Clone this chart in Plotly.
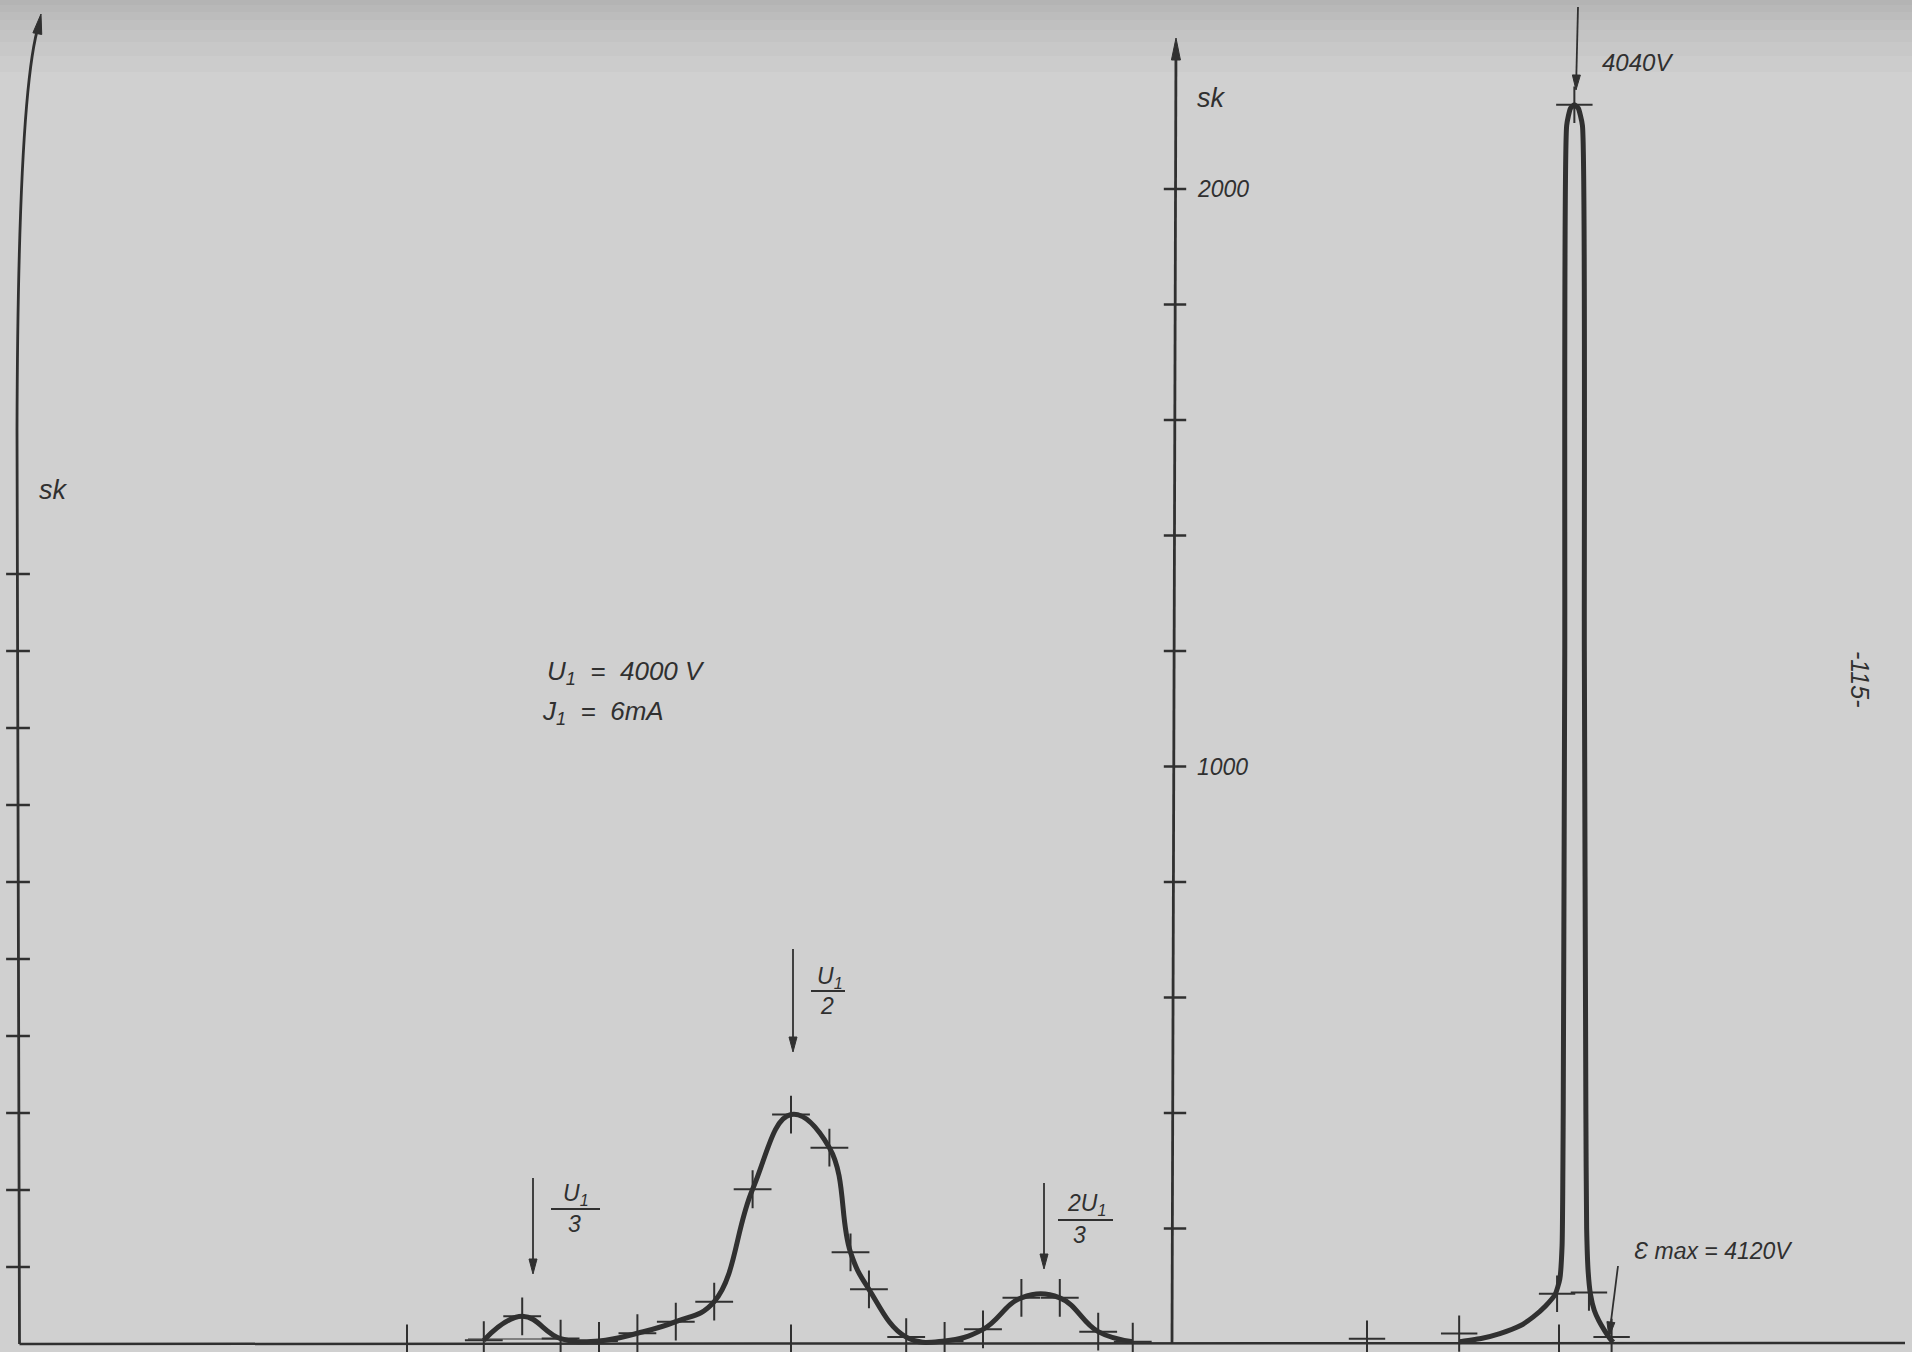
import math
import plotly.graph_objects as go

# ---------------- data ----------------
# left part: voltage V (x) vs. counts in left-scale units (10 units per axis tick)
left_voltage = [1200, 1300, 1400, 1500, 1600, 1700, 1800, 1900, 2000, 2100,
                2155, 2203, 2300, 2400, 2500, 2600, 2700, 2800, 2890]
left_sk = [0.5, 3.6, 0.7, 0.4, 1.4, 2.9, 5.5, 20.1, 29.8, 25.5,
           11.9, 7.1, 0.9, 0.4, 1.9, 6.0, 6.0, 1.6, 0.3]

# right part (right scale, "sk"): the narrow peak at 4040 V
right_curve_voltage = [3742, 3800, 3846, 3900, 3933, 3965, 3990, 4002, 4008, 4011,
                       4015, 4020, 4030, 4040, 4050, 4061, 4066, 4070, 4072, 4076,
                       4082, 4092, 4104, 4118, 4132, 4141]
right_curve_sk = [4, 10, 18, 32, 47, 66, 86, 112, 170, 400,
                  1200, 2110, 2140, 2146, 2140, 2110, 1200, 400, 200, 125,
                  86, 58, 40, 24, 10, 3]
right_point_voltage = [3500, 3740, 3995, 4040, 4078, 4137]
right_point_sk = [9, 18, 87, 2146, 89, 12]

x_tick_voltage = [1000, 2000, 4000]
left_tick_values = [10, 20, 30, 40, 50, 60, 70, 80, 90, 100]
right_tick_values = [200, 400, 600, 800, 1000, 1200, 1400, 1600, 1800, 2000]
right_tick_labels = ["", "", "", "", "1000", "", "", "", "", "2000"]

# ---------------- geometry / style ----------------
W, H = 1912, 1352
X0_PX, PX_PER_V = 23.0, 0.384
BASE_PX = 1344.0
LEFT_PX_PER_UNIT = 7.7
RIGHT_PX_PER_UNIT = 0.5775
INK = "#303030"
PAPER = "#d0d0d0"
FONT = "Liberation Sans Narrow, Liberation Sans, Arial"


def px(xp):
    return xp / W


def py(yp):
    return 1 - yp / H


fig = go.Figure()

# left curve and measurement crosses
fig.add_trace(go.Scatter(x=left_voltage, y=left_sk, mode="lines",
                         line=dict(shape="spline", smoothing=1.2, width=5, color=INK),
                         hoverinfo="skip"))
fig.add_trace(go.Scatter(x=left_voltage, y=left_sk, mode="markers",
                         marker=dict(symbol="cross-thin", size=27,
                                     line=dict(width=2, color=INK)),
                         hoverinfo="skip"))
# right curve and crosses
fig.add_trace(go.Scatter(x=right_curve_voltage, y=right_curve_sk, yaxis="y2", mode="lines",
                         line=dict(shape="spline", smoothing=0.5, width=5, color=INK),
                         hoverinfo="skip"))
fig.add_trace(go.Scatter(x=right_point_voltage, y=right_point_sk, yaxis="y2", mode="markers",
                         marker=dict(symbol="cross-thin", size=26,
                                     line=dict(width=2, color=INK)),
                         hoverinfo="skip"))
# x tick marks on the baseline
fig.add_trace(go.Scatter(x=x_tick_voltage, y=[0] * len(x_tick_voltage), mode="markers",
                         marker=dict(symbol="line-ns", size=28,
                                     line=dict(width=2, color=INK)),
                         hoverinfo="skip"))
# left axis ticks
fig.add_trace(go.Scatter(x=[-13] * len(left_tick_values), y=left_tick_values, mode="markers",
                         marker=dict(symbol="line-ew", size=17,
                                     line=dict(width=2.5, color=INK)),
                         hoverinfo="skip"))
# right axis ticks
fig.add_trace(go.Scatter(x=[3000] * len(right_tick_values), y=right_tick_values, yaxis="y2",
                         mode="markers",
                         marker=dict(symbol="line-ew", size=16,
                                     line=dict(width=2.5, color=INK)),
                         hoverinfo="skip"))

shapes = []
# slightly darker paper at the top edge
for hgt in (5, 12, 20, 30, 42, 56, 72):
    shapes.append(dict(type="rect", xref="paper", yref="paper", x0=0, x1=1,
                       y0=py(hgt), y1=1, fillcolor="rgba(40,40,40,0.022)",
                       line=dict(width=0), layer="below"))
# baseline
shapes.append(dict(type="line", xref="paper", yref="paper",
                   x0=px(19.5), y0=py(BASE_PX), x1=px(1905), y1=py(BASE_PX - 1),
                   line=dict(color=INK, width=2.5)))
# faint helper line under the small peak
shapes.append(dict(type="line", xref="paper", yref="paper",
                   x0=px(468), y0=py(1339), x1=px(563), y1=py(1339),
                   line=dict(color=INK, width=1.2)))
# curved left axis
shapes.append(dict(type="path", xref="paper", yref="paper",
                   path=f"M {px(19.5)},{py(BASE_PX)} L {px(17)},{py(430)} "
                        f"Q {px(18)},{py(90)} {px(39)},{py(24)}",
                   line=dict(color=INK, width=2.8)))
# fraction bars
for (xa, xb, yy) in [(551, 600, 1209), (811, 845, 991), (1058, 1113, 1220)]:
    shapes.append(dict(type="line", xref="paper", yref="paper",
                       x0=px(xa), y0=py(yy), x1=px(xb), y1=py(yy),
                       line=dict(color=INK, width=2.2)))


def arrow(tip, tail, width=1.8, head_len=15, head_w=4.0):
    dx, dy = tip[0] - tail[0], tip[1] - tail[1]
    n = math.hypot(dx, dy)
    ux, uy = dx / n, dy / n
    bx, by = tip[0] - ux * head_len, tip[1] - uy * head_len
    shapes.append(dict(type="line", xref="paper", yref="paper",
                       x0=px(tail[0]), y0=py(tail[1]), x1=px(bx), y1=py(by),
                       line=dict(color=INK, width=width)))
    p1 = (bx - uy * head_w, by + ux * head_w)
    p2 = (bx + uy * head_w, by - ux * head_w)
    shapes.append(dict(type="path", xref="paper", yref="paper",
                       path=f"M {px(tip[0])},{py(tip[1])} L {px(p1[0])},{py(p1[1])} "
                            f"L {px(p2[0])},{py(p2[1])} Z",
                       fillcolor=INK, line=dict(color=INK, width=1)))


# axes arrowheads / right axis
arrow((1176, 38), (1172, BASE_PX), width=2.8, head_len=22, head_w=4.5)
arrow((41, 14), (38, 30), width=2.8, head_len=20, head_w=4.5)

# annotation arrows
arrow((533, 1274), (533, 1178))
arrow((793, 1052), (793, 949))
arrow((1044, 1269), (1044, 1183))
arrow((1576, 90), (1578, 7))
arrow((1609, 1337), (1618, 1266))

ann = []


def label(text, x, y, size, anchor="left", angle=0):
    ann.append(dict(xref="paper", yref="paper", x=px(x), y=py(y), text=text,
                    showarrow=False, xanchor=anchor, yanchor="middle",
                    textangle=angle,
                    font=dict(family=FONT, size=size, color=INK, style="italic")))


# right tick labels
for v, t in zip(right_tick_values, right_tick_labels):
    if t:
        ann.append(dict(xref="x", yref="y2", x=3000, y=v, text=t, showarrow=False,
                        xanchor="left", yanchor="middle", xshift=20,
                        font=dict(family=FONT, size=23, color=INK, style="italic")))

label("sk", 37, 490, 27)
label("sk", 1195, 98, 27)
label("U<sub>1</sub>  =  4000 V", 545, 672, 26)
label("J<sub>1</sub>  =  6mA", 540, 712, 26)
label("U<sub>1</sub>", 576, 1194, 23, anchor="center")
label("3", 574, 1224, 23, anchor="center")
label("U<sub>1</sub>", 830, 977, 23, anchor="center")
label("2", 827, 1006, 23, anchor="center")
label("2U<sub>1</sub>", 1086, 1204, 23, anchor="center")
label("3", 1079, 1235, 23, anchor="center")
label("4040V", 1600, 63, 24)
label("Ɛ max = 4120V", 1632, 1251, 23)
label("-115-", 1860, 679, 25, anchor="center", angle=90)

fig.update_layout(
    width=W, height=H,
    margin=dict(l=0, r=0, t=0, b=0, pad=0),
    paper_bgcolor=PAPER, plot_bgcolor=PAPER,
    showlegend=False,
    xaxis=dict(range=[(0 - X0_PX) / PX_PER_V, (W - X0_PX) / PX_PER_V],
               visible=False, fixedrange=True),
    yaxis=dict(range=[(BASE_PX - H) / LEFT_PX_PER_UNIT, BASE_PX / LEFT_PX_PER_UNIT],
               visible=False, fixedrange=True),
    yaxis2=dict(range=[(BASE_PX - H) / RIGHT_PX_PER_UNIT, BASE_PX / RIGHT_PX_PER_UNIT],
                overlaying="y", visible=False, fixedrange=True),
    shapes=shapes,
    annotations=ann,
)

fig.write_html("out.html", config={"displayModeBar": False},
               post_script="document.body.style.margin='0px';"
                           "document.body.style.overflow='hidden';")
